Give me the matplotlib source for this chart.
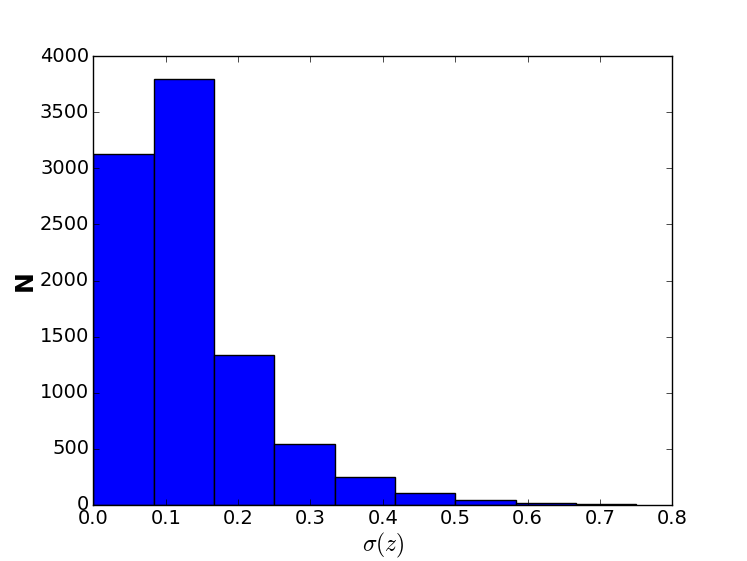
import numpy as np
import matplotlib
matplotlib.use("Agg")
import matplotlib.pyplot as plt

# histogram of sigma(z): 9 bins from 0 to 0.75
bin_edges = np.linspace(0.0, 0.75, 10)
counts = [3130, 3800, 1335, 543, 248, 102, 45, 17, 8]

plt.style.use("classic")
plt.rcParams["mathtext.fontset"] = "cm"

fig = plt.figure(figsize=(7.47, 5.61), dpi=100)
ax = fig.add_subplot(111)
ax.hist(bin_edges[:-1], bins=bin_edges, weights=counts,
        color="#0000ff", edgecolor="black")
ax.set_xlim(0.0, 0.8)
ax.set_ylim(0, 4000)
ax.tick_params(labelsize=14, pad=3)
ax.set_xlabel(r"$\sigma(z)$", fontsize=17, labelpad=2)
ax.set_ylabel("N", fontsize=18, fontweight="bold", labelpad=2)

fig.savefig("out.png", dpi=100)
